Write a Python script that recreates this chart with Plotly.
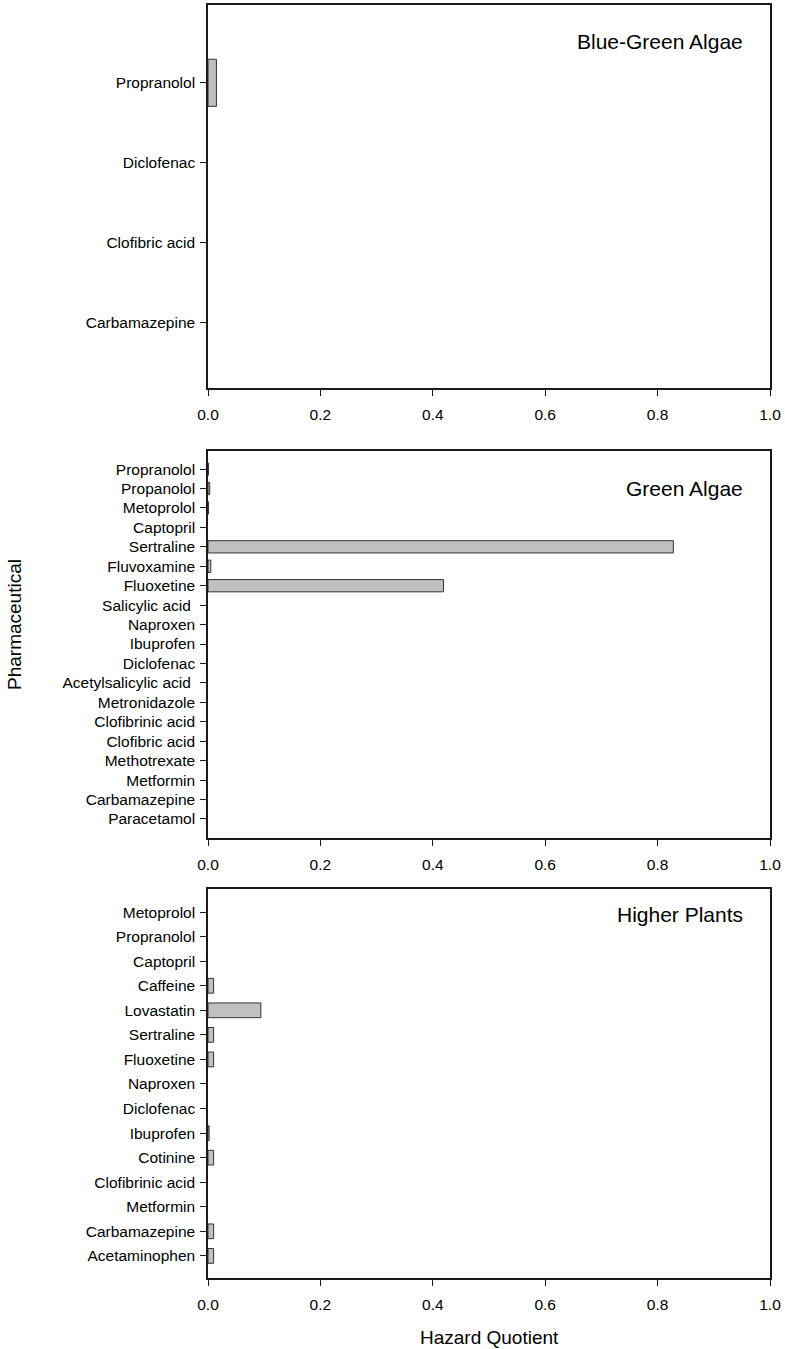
import plotly.graph_objects as go

# Hazard quotients per organism group (categories listed top to bottom)
bluegreen_names = ["Propranolol", "Diclofenac", "Clofibric acid", "Carbamazepine"]
bluegreen_hq = [0.015, 0.0, 0.0, 0.0]

green_names = ["Propranolol", "Propanolol", "Metoprolol", "Captopril", "Sertraline",
               "Fluvoxamine", "Fluoxetine", "Salicylic acid\u00a0", "Naproxen", "Ibuprofen",
               "Diclofenac", "Acetylsalicylic acid\u00a0", "Metronidazole", "Clofibrinic acid",
               "Clofibric acid", "Methotrexate", "Metformin", "Carbamazepine", "Paracetamol"]
green_hq = [0.001, 0.003, 0.001, 0.0, 0.828, 0.005, 0.419, 0.0, 0.0, 0.0,
            0.0, 0.0, 0.0, 0.0, 0.0, 0.0, 0.0, 0.0, 0.0]

plants_names = ["Metoprolol", "Propranolol", "Captopril", "Caffeine", "Lovastatin",
                "Sertraline", "Fluoxetine", "Naproxen", "Diclofenac", "Ibuprofen",
                "Cotinine", "Clofibrinic acid", "Metformin", "Carbamazepine", "Acetaminophen"]
plants_hq = [0.0, 0.0, 0.0, 0.01, 0.094, 0.01, 0.01, 0.0, 0.0, 0.002,
             0.01, 0.0, 0.0, 0.01, 0.01]

x_ticks = [0.0, 0.2, 0.4, 0.6, 0.8, 1.0]

W, H = 785, 1349
FONT = "Liberation Sans, Arial, sans-serif"
INK = "#1a1a1a"

def py(px):
    return 1 - px / H

x_dom = [208 / W, 770 / W]
panels = [
    dict(names=bluegreen_names, vals=bluegreen_hq, top=5, bottom=388, rng=[3.825, -0.975],
         width=0.59, title="Blue-Green Algae", ty=42),
    dict(names=green_names, vals=green_hq, top=451, bottom=838, rng=[18.98, -0.93],
         width=0.63, title="Green Algae", ty=488),
    dict(names=plants_names, vals=plants_hq, top=889, bottom=1278, rng=[14.9, -0.94],
         width=0.6, title="Higher Plants", ty=915),
]

fig = go.Figure()
layout = dict(
    width=W, height=H,
    margin=dict(l=0, r=0, t=0, b=0, pad=0),
    paper_bgcolor="white", plot_bgcolor="white",
    showlegend=False,
    font=dict(family=FONT, color="black", size=15.5),
    annotations=[],
)

for i, p in enumerate(panels, start=1):
    xa = "x" if i == 1 else f"x{i}"
    ya = "y" if i == 1 else f"y{i}"
    # zero-valued bars get no outline so nothing is drawn for them
    outline_w = [1 if v > 0 else 0 for v in p["vals"]]
    fig.add_trace(go.Bar(
        x=p["vals"], y=p["names"], orientation="h",
        width=p["width"],
        marker=dict(color="#c0c0c0", line=dict(color="#333333", width=outline_w)),
        xaxis=xa, yaxis=ya,
    ))
    axis_common = dict(
        showline=True, linecolor=INK, linewidth=1.5, mirror=True,
        ticks="outside", ticklen=6, tickwidth=1.3, tickcolor=INK,
        showgrid=False, zeroline=False, automargin=False,
        tickfont=dict(family=FONT, size=15.5, color="black"),
    )
    layout["xaxis" if i == 1 else f"xaxis{i}"] = dict(
        axis_common, domain=x_dom, anchor=ya, range=[0, 1.0],
        tickvals=x_ticks, ticktext=[f"{v:.1f}" for v in x_ticks],
        ticklabelstandoff=6,
    )
    layout["yaxis" if i == 1 else f"yaxis{i}"] = dict(
        axis_common, domain=[py(p["bottom"]), py(p["top"])], anchor=xa,
        type="category", categoryorder="array", categoryarray=p["names"],
        range=p["rng"], ticklabelstandoff=2,
    )
    layout["annotations"].append(dict(
        text=p["title"], xref="paper", yref="paper",
        x=745 / W, y=py(p["ty"]), xanchor="right", yanchor="middle",
        showarrow=False, font=dict(family=FONT, size=21, color="black"),
    ))

layout["annotations"].append(dict(
    text="Pharmaceutical", xref="paper", yref="paper",
    x=15 / W, y=py(625), xanchor="center", yanchor="middle", textangle=-90,
    showarrow=False, font=dict(family=FONT, size=19, color="black"),
))
layout["annotations"].append(dict(
    text="Hazard Quotient", xref="paper", yref="paper",
    x=489 / W, y=py(1337), xanchor="center", yanchor="middle",
    showarrow=False, font=dict(family=FONT, size=19, color="black"),
))

fig.update_layout(**layout)
fig.write_html("out.html")
